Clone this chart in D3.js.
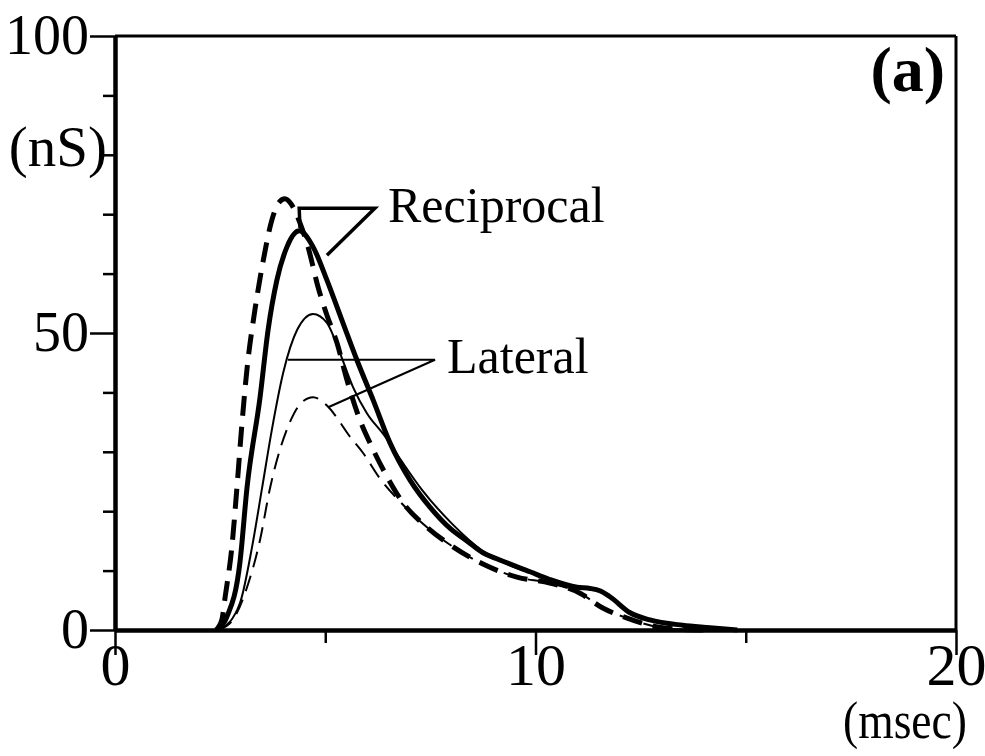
<!DOCTYPE html>
<html>
<head>
<meta charset="utf-8">
<script src="https://cdn.jsdelivr.net/npm/d3@7"></script>
<style>
  html, body { margin: 0; padding: 0; background: #fff; }
  svg { display: block; }
  text { font-family: "Liberation Serif", "Times New Roman", serif; fill: #000; }
</style>
</head>
<body>
<svg id="chart" width="985" height="756"></svg>
<script>
// ---- data (time in msec, conductance in nS) ----
const reciprocalDashedT = [2.40, 2.54, 2.62, 2.78, 2.90, 3.02, 3.14, 3.33, 3.52, 3.73, 3.90, 4.04, 4.20, 4.40, 4.59, 4.83, 5.02, 5.28, 5.52, 5.78, 6.11, 6.47, 6.85, 7.42, 8.04, 8.75, 9.56, 10.34, 11.06, 11.60, 12.18, 12.90, 13.50, 14.00];
const reciprocalDashedV = [0, 1.7, 5.6, 14, 24, 34.8, 44, 54, 62, 69, 72, 72.6, 71.6, 68.5, 64.5, 57.7, 53.4, 48.3, 42, 36.2, 30.8, 25.8, 21.4, 17.3, 14.0, 11.1, 8.9, 7.9, 6.2, 3.7, 2.0, 0.5, 0.1, 0];

const reciprocalSolidT = [2.45, 2.66, 2.97, 3.14, 3.45, 3.64, 3.85, 4.09, 4.38, 4.71, 5.04, 5.42, 5.75, 6.14, 6.54, 7.02, 7.50, 7.97, 8.37, 8.75, 9.08, 9.87, 10.34, 10.99, 11.30, 11.53, 11.77, 12.25, 12.72, 13.50, 14.15, 14.80];
const reciprocalSolidV = [0, 2.2, 11.3, 24, 39.2, 50.5, 58.9, 64.5, 67.2, 64.5, 58.9, 51.7, 45.5, 38.7, 31.5, 25.2, 20.6, 17.1, 15.0, 13.0, 12.0, 9.8, 8.5, 7.2, 7.0, 6.6, 5.6, 2.9, 1.7, 0.8, 0.4, 0];

const lateralSolidT = [2.50, 2.97, 3.26, 3.50, 3.73, 4.00, 4.33, 4.71, 5.04, 5.35, 5.66, 5.99, 6.40, 6.80, 7.30, 8.00, 8.75, 9.50, 10.34, 10.99, 11.30, 11.53, 11.77, 12.25, 12.72, 13.50, 14.15, 14.80];
const lateralSolidV = [0, 4.5, 14, 24, 33.7, 43.3, 50.5, 53.2, 51.7, 46.6, 40.9, 36.5, 32.8, 28.6, 23.6, 18.0, 13.3, 10.6, 8.6, 7.2, 7.0, 6.6, 5.6, 2.9, 1.7, 0.8, 0.4, 0];

const lateralDashedT = [2.45, 2.80, 3.14, 3.45, 3.69, 3.92, 4.16, 4.40, 4.71, 5.04, 5.35, 5.52, 5.90, 6.30, 6.78, 7.42, 8.04, 8.75, 9.56, 10.34, 11.06, 11.60, 12.18, 12.90, 13.50, 14.00];
const lateralDashedV = [0, 1.7, 7.2, 15.2, 24, 30.3, 35, 38, 39.2, 37.8, 35.0, 33.2, 29.8, 25.5, 21.6, 17.3, 14.0, 11.1, 8.9, 7.9, 6.2, 3.7, 2.0, 0.5, 0.1, 0];

// annotation leader lines (data coordinates)
const reciprocalLeaderT = [4.40, 4.38, 6.18, 5.04];
const reciprocalLeaderV = [67.7, 71.0, 71.0, 63.1];
const lateralLeaderT = [4.11, 7.61, 5.07];
const lateralLeaderV = [45.5, 45.5, 37.5];

const xMajorTicks = [0, 10, 20];
const xMinorTicks = [5, 15];
const yMajorTicks = [0, 50, 100];
const yMinorTicks = [10, 20, 30, 40, 60, 70, 80, 90];

// ---- layout ----
const svg = d3.select("#chart");
const padL = 115, padR = 956, padT = 36, padB = 630;
const x = d3.scaleLinear().domain([0, 20]).range([padL, padR]);
const y = d3.scaleLinear().domain([0, 100]).range([padB, padT]);

const zip = (T, V) => T.map((t, i) => [t, V[i]]);

// ---- frame (top & right) ----
svg.append("line").attr("x1", x(0)).attr("x2", x(20)).attr("y1", y(100)).attr("y2", y(100))
  .attr("stroke", "#000").attr("stroke-width", 3);
svg.append("line").attr("x1", x(20)).attr("x2", x(20)).attr("y1", y(100)).attr("y2", y(0))
  .attr("stroke", "#000").attr("stroke-width", 3);

// ---- axes ----
const yMajor = d3.axisLeft(y).tickValues(yMajorTicks).tickSize(25).tickSizeOuter(0).tickPadding(1).tickFormat(d3.format("d"));
const yMinor = d3.axisLeft(y).tickValues(yMinorTicks).tickSize(12).tickSizeOuter(0).tickFormat("");
const xMajor = d3.axisBottom(x).tickValues(xMajorTicks).tickSize(25).tickSizeOuter(0).tickPadding(-13).tickFormat(d3.format("d"));
const xMinor = d3.axisBottom(x).tickValues(xMinorTicks).tickSize(13).tickSizeOuter(0).tickFormat("");

function styleAxis(g, w, fs) {
  g.select(".domain").attr("stroke", "#000").attr("stroke-width", w);
  g.selectAll(".tick line").attr("stroke", "#000").attr("stroke-width", 2.5);
  g.selectAll(".tick text").attr("font-size", fs).attr("fill", "#000")
    .style("font-family", '"Liberation Serif", "Times New Roman", serif');
}
svg.append("g").attr("transform", `translate(${padL},0)`).call(yMinor).call(g => styleAxis(g, 4, 56));
svg.append("g").attr("transform", `translate(${padL},0)`).call(yMajor).call(g => styleAxis(g, 4, 56));
svg.append("g").attr("transform", `translate(0,${padB})`).call(xMinor).call(g => styleAxis(g, 4, 60));
svg.append("g").attr("transform", `translate(0,${padB})`).call(xMajor).call(g => styleAxis(g, 4, 60));

// ---- curves ----
const line = d3.line().x(d => x(d[0])).y(d => y(d[1])).curve(d3.curveMonotoneX);
const plot = svg.append("g");
plot.append("path").datum(zip(lateralDashedT, lateralDashedV)).attr("d", line)
  .attr("fill", "none").attr("stroke", "#000").attr("stroke-width", 2).attr("stroke-dasharray", "16,9");
plot.append("path").datum(zip(lateralSolidT, lateralSolidV)).attr("d", line)
  .attr("fill", "none").attr("stroke", "#000").attr("stroke-width", 2);
plot.append("path").datum(zip(reciprocalDashedT, reciprocalDashedV)).attr("d", line)
  .attr("fill", "none").attr("stroke", "#000").attr("stroke-width", 5).attr("stroke-dasharray", "20,11");
plot.append("path").datum(zip(reciprocalSolidT, reciprocalSolidV)).attr("d", line)
  .attr("fill", "none").attr("stroke", "#000").attr("stroke-width", 5);

// ---- leaders and labels ----
const straight = d3.line().x(d => x(d[0])).y(d => y(d[1]));
svg.append("path").datum(zip(reciprocalLeaderT, reciprocalLeaderV)).attr("d", straight)
  .attr("fill", "none").attr("stroke", "#000").attr("stroke-width", 3.5).attr("stroke-linejoin", "miter");
svg.append("path").datum(zip(lateralLeaderT, lateralLeaderV)).attr("d", straight)
  .attr("fill", "none").attr("stroke", "#000").attr("stroke-width", 2);

svg.append("text").attr("x", 388).attr("y", 222).attr("font-size", 50).text("Reciprocal");
svg.append("text").attr("x", 447).attr("y", 373).attr("font-size", 50).text("Lateral");
svg.append("text").attr("x", 945).attr("y", 91).attr("font-size", 64).attr("font-weight", "bold")
  .attr("text-anchor", "end").text("(a)");
svg.append("text").attr("x", 107).attr("y", 166).attr("font-size", 57).attr("text-anchor", "end").text("(nS)");
svg.append("text").attr("x", 967).attr("y", 738).attr("font-size", 52)
  .attr("text-anchor", "end").attr("textLength", 124).attr("lengthAdjust", "spacingAndGlyphs").text("(msec)");
</script>
</body>
</html>
